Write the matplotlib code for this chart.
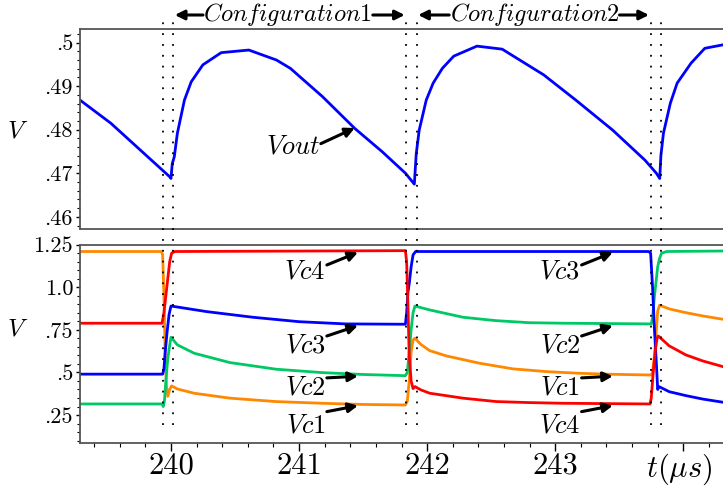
import matplotlib
matplotlib.use("Agg")
import matplotlib.pyplot as plt
from matplotlib.lines import Line2D
from matplotlib.ticker import MultipleLocator
from matplotlib import transforms

plt.rcParams['mathtext.fontset'] = 'cm'

# ---- data ----
t_vout = [239.29, 239.53, 239.99, 240.0, 240.01, 240.026, 240.05, 240.105, 240.158,
          240.249, 240.392, 240.608, 240.824, 240.932, 241.183, 241.435, 241.651,
          241.831, 241.9, 241.915, 241.938, 241.993, 242.047, 242.119, 242.208,
          242.389, 242.586, 242.91, 243.161, 243.449, 243.701, 243.79, 243.816,
          243.825, 243.845, 243.899, 243.952, 244.061, 244.168, 244.31]
vout = [0.4868, 0.4815, 0.4692, 0.4688, 0.4722, 0.4738, 0.4792, 0.4868, 0.4910,
        0.4949, 0.4977, 0.4983, 0.4960, 0.4941, 0.4876, 0.4803, 0.4749,
        0.4700, 0.4675, 0.4745, 0.4799, 0.4868, 0.4907, 0.4941, 0.4969,
        0.4992, 0.4985, 0.4926, 0.4868, 0.4799, 0.4730, 0.4700, 0.4688,
        0.4740, 0.4792, 0.4861, 0.4907, 0.4953, 0.4987, 0.4995]

t_vc1 = [239.29, 239.925, 239.935, 239.945, 239.955, 239.965, 239.975, 239.99, 240.005,
         240.05, 240.18, 240.46, 240.82, 241.18, 241.5, 241.83, 241.845, 241.86, 241.875,
         241.89, 241.905, 241.95, 242.02, 242.15, 242.41, 242.67, 242.93, 243.19, 243.45,
         243.75, 243.76, 243.775, 243.79, 243.80, 243.815, 243.89, 244.02, 244.15, 244.31]
vc1 = [1.21, 1.21, 1.19, 0.95, 0.60, 0.42, 0.36, 0.40, 0.421,
       0.403, 0.378, 0.349, 0.329, 0.319, 0.312, 0.309, 0.33, 0.45, 0.62,
       0.69, 0.701, 0.665, 0.628, 0.597, 0.554, 0.521, 0.505, 0.495, 0.489,
       0.485, 0.50, 0.60, 0.75, 0.86, 0.895, 0.873, 0.851, 0.832, 0.812]

t_vc2 = [239.29, 239.93, 239.94, 239.95, 239.96, 239.975, 239.99, 240.0,
         240.05, 240.18, 240.46, 240.82, 241.18, 241.5, 241.83, 241.845, 241.86, 241.875,
         241.89, 241.905, 242.02, 242.28, 242.54, 242.80, 243.06, 243.75,
         243.76, 243.775, 243.79, 243.80, 243.815, 243.83, 243.87, 244.31]
vc2 = [0.315, 0.315, 0.30, 0.34, 0.45, 0.58, 0.66, 0.707,
       0.662, 0.613, 0.558, 0.519, 0.499, 0.488, 0.481, 0.50, 0.62, 0.75,
       0.85, 0.890, 0.867, 0.824, 0.804, 0.792, 0.789, 0.785,
       0.82, 0.95, 1.05, 1.12, 1.17, 1.20, 1.21, 1.213]

t_vc3 = [239.29, 239.935, 239.945, 239.955, 239.97, 239.985, 240.0,
         240.28, 240.64, 241.0, 241.36, 241.83, 241.84, 241.85, 241.86, 241.875,
         241.89, 241.91, 243.73, 243.745, 243.76, 243.775, 243.79, 243.80,
         243.81, 243.89, 244.02, 244.15, 244.31]
vc3 = [0.49, 0.49, 0.52, 0.62, 0.74, 0.84, 0.89,
       0.857, 0.824, 0.798, 0.785, 0.783, 0.85, 0.97, 1.02, 1.12,
       1.19, 1.21, 1.21, 1.20, 1.00, 0.75, 0.55, 0.40,
       0.417, 0.387, 0.364, 0.344, 0.325]

t_vc4 = [239.29, 239.93, 239.945, 239.96, 239.975, 239.99, 240.005, 240.03,
         241.83, 241.84, 241.85, 241.86, 241.875, 241.89, 241.905, 241.95, 242.02, 242.28,
         242.54, 242.80, 243.06, 243.74, 243.75, 243.765, 243.78, 243.795, 243.805,
         243.89, 244.02, 244.15, 244.31]
vc4 = [0.789, 0.789, 0.85, 0.95, 1.05, 1.15, 1.20, 1.21,
       1.215, 1.15, 0.90, 0.60, 0.45, 0.405, 0.417, 0.398, 0.378, 0.349,
       0.329, 0.323, 0.319, 0.315, 0.35, 0.50, 0.62, 0.70, 0.714,
       0.656, 0.603, 0.568, 0.534]

# switching instants (dotted lines)
t_switch = [239.934, 240.016, 241.837, 241.919, 243.744, 243.826]

top_ticks = [0.46, 0.47, 0.48, 0.49, 0.50]
top_labels = ['.46', '.47', '.48', '.49', '.5']
bot_ticks = [0.25, 0.5, 0.75, 1.0, 1.25]
bot_labels = ['.25', '.5', '.75', '1.0', '1.25']
x_ticks = [240, 241, 242, 243, 244]
x_labels = ['240', '241', '242', '243', '']

# Vc labels per configuration: (name, arrow head level)
vc_cycle1 = [('Vc4', 1.205), ('Vc3', 0.775), ('Vc2', 0.478), ('Vc1', 0.305)]
vc_cycle2 = [('Vc3', 1.205), ('Vc2', 0.775), ('Vc1', 0.478), ('Vc4', 0.305)]
text_dy = [1.09, 0.661, 0.409, 0.19]
tail_dy = [1.131, 0.714, 0.468, 0.270]

col = {'Vc1': '#ff8800', 'Vc2': '#00c864', 'Vc3': '#0000ff', 'Vc4': '#ff0000'}
spine_col = '#555555'

fig = plt.figure(figsize=(7.23, 5.0), dpi=100)
ax1 = fig.add_axes([0.1107, 0.542, 0.8893, 0.4006])
ax2 = fig.add_axes([0.1107, 0.1134, 0.8893, 0.3972])

xlim = (239.29, 244.31)

# ---- top panel ----
ax1.plot(t_vout, vout, color='#0000ff', lw=2.0)
ax1.set_xlim(*xlim)
ax1.set_ylim(0.4572, 0.5032)
ax1.set_yticks(top_ticks, top_labels, fontsize=16, family='cmr10')
ax1.yaxis.set_minor_locator(MultipleLocator(0.002))
ax1.set_xticks([])

# ---- bottom panel ----
for name, tt, vv in [('Vc1', t_vc1, vc1), ('Vc2', t_vc2, vc2),
                     ('Vc3', t_vc3, vc3), ('Vc4', t_vc4, vc4)]:
    ax2.plot(tt, vv, color=col[name], lw=2.0)
ax2.set_xlim(*xlim)
ax2.set_ylim(0.084, 1.25)
ax2.set_yticks(bot_ticks, bot_labels, fontsize=16, family='cmr10')
ax2.yaxis.set_minor_locator(MultipleLocator(0.05))
ax2.set_xticks(x_ticks, x_labels, fontsize=22, family='cmr10')
ax2.xaxis.set_minor_locator(MultipleLocator(0.2))

for ax in (ax1, ax2):
    ax.spines['right'].set_visible(False)
    for s in ('left', 'top', 'bottom'):
        ax.spines[s].set_color(spine_col)
        ax.spines[s].set_linewidth(1.3)
    ax.tick_params(axis='y', which='major', length=3, width=1, color='black', pad=2)
    ax.tick_params(axis='y', which='minor', length=2, width=0.8, color='black')
ax2.tick_params(axis='x', which='major', length=5.5, width=1, color='black', pad=1)
ax2.tick_params(axis='x', which='minor', length=3, width=0.8, color='black')

# dotted switching lines spanning both panels
trans = transforms.blended_transform_factory(ax2.transData, fig.transFigure)
for ts in t_switch:
    fig.add_artist(Line2D([ts, ts], [0.15, 0.964], transform=trans,
                          color='black', lw=1.3, ls=(0, (1, 5))))

arrow = dict(arrowstyle='-|>', lw=2.2, color='black', mutation_scale=14,
             shrinkA=0, shrinkB=0)

# Vout label
ax1.annotate('', xy=(241.435, 0.4804), xytext=(241.17, 0.4768), arrowprops=arrow)
ax1.text(241.16, 0.4762, '$Vout$', fontsize=19, ha='right', va='center')

# Vc labels
for labels, x_tail, x_head in [(vc_cycle1, 241.217, 241.46), (vc_cycle2, 243.206, 243.45)]:
    for (name, yh), yt, ytail in zip(labels, text_dy, tail_dy):
        ax2.annotate('', xy=(x_head, yh), xytext=(x_tail, ytail), arrowprops=arrow)
        ax2.text(x_tail - 0.01, yt, '$' + name + '$', fontsize=19,
                 ha='right', va='center')

# Configuration headers
cfg_y = 0.97
cfg_trans = transforms.blended_transform_factory(ax1.transData, fig.transFigure)
for txt, xc, tl, hl, tr, hr in [('Configuration1', 240.913, 240.25, 240.03, 241.576, 241.825),
                                ('Configuration2', 242.84, 242.172, 241.93, 243.502, 243.732)]:
    for tail, head in [(tl, hl), (tr, hr)]:
        ax1.annotate('', xy=(head, cfg_y), xytext=(tail, cfg_y),
                     xycoords=('data', 'figure fraction'),
                     textcoords=('data', 'figure fraction'),
                     arrowprops=arrow, annotation_clip=False)
    ax1.text(xc, cfg_y, '$' + txt + '$', fontsize=17.5, ha='center', va='center',
             transform=cfg_trans)

# axis labels
fig.text(18 / 723, 1 - 130 / 500, '$V$', fontsize=18, ha='center', va='center')
fig.text(18 / 723, 1 - 328 / 500, '$V$', fontsize=18, ha='center', va='center')
fig.text(679 / 723, 1 - 469 / 500, r'$t(\mu s)$', fontsize=22, ha='center', va='center')

fig.savefig('out.png', dpi=100)
